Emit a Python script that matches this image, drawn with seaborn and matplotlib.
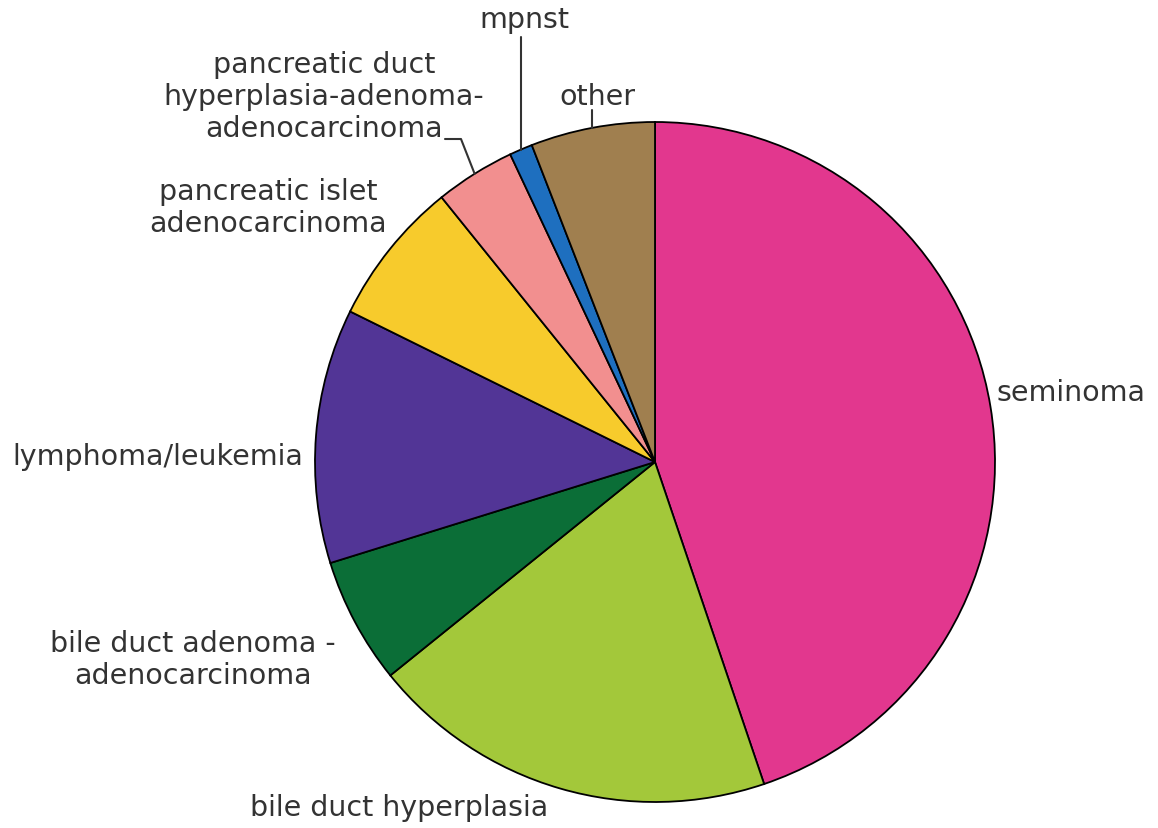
import numpy as np
import matplotlib
matplotlib.use("Agg")
import matplotlib.pyplot as plt
import seaborn as sns

categories = ["seminoma", "bile duct hyperplasia", "bile duct adenoma -\nadenocarcinoma",
              "lymphoma/leukemia", "pancreatic islet\nadenocarcinoma",
              "pancreatic duct\nhyperplasia-adenoma-\nadenocarcinoma", "mpnst", "other"]
values = [44.8, 19.4, 6.0, 12.1, 6.9, 3.8, 1.1, 5.9]
colors = ["#E2378E", "#A3C83A", "#0B6E37", "#523596", "#F7CB2C", "#F28F8F", "#1E6FBF", "#A07F4F"]

sns.set_theme(style="white")
plt.rcParams['font.family'] = ['DejaVu Sans']

W, H = 1158, 829
CX, CY, R = 655, 463, 340
fig = plt.figure(figsize=(W / 100, H / 100), dpi=100)
ax = fig.add_axes([0, 0, 1, 1])

wedges, _ = ax.pie(values, colors=colors, startangle=90, counterclock=False,
                   wedgeprops=dict(edgecolor="black", linewidth=1.3))

def px(x, y):
    return ((x - CX) / R, (CY - y) / R)

ax.set_xlim(-CX / R, (W - CX) / R)
ax.set_ylim(-(H - CY) / R, CY / R)
ax.set_aspect('equal')
ax.axis('off')

tc = "#333333"
fs = 20.5
# label positions (layout, in pixel terms)
label_pos = {
    0: (1071, 393),
    1: (399, 808),
    2: (193, 660),
    3: (158, 457),
    4: (268, 208),
    5: (324, 97),
    6: (524, 20),
    7: (597, 97),
}
for i, (x, y) in label_pos.items():
    xx, yy = px(x, y)
    ax.text(xx, yy, categories[i], ha='center', va='center', fontsize=fs, color=tc,
            linespacing=1.17)

def anchor(i):
    w = wedges[i]
    mid = np.deg2rad((w.theta1 + w.theta2) / 2)
    return np.cos(mid), np.sin(mid)

# leader lines
ax0, ay0 = anchor(6)
ax.plot([ax0, ax0], [ay0, px(0, 38)[1]], color="#333333", lw=1.5)
ax1, ay1 = anchor(7)
ax.plot([ax1, ax1], [ay1, px(0, 111)[1]], color="#333333", lw=1.5)
ax2, ay2 = anchor(5)
p1 = px(461, 140)
p0 = px(445, 140)
ax.plot([p0[0], p1[0], ax2], [p0[1], p1[1], ay2], color="#333333", lw=1.5)

fig.savefig("out.png", dpi=100, facecolor="white")
